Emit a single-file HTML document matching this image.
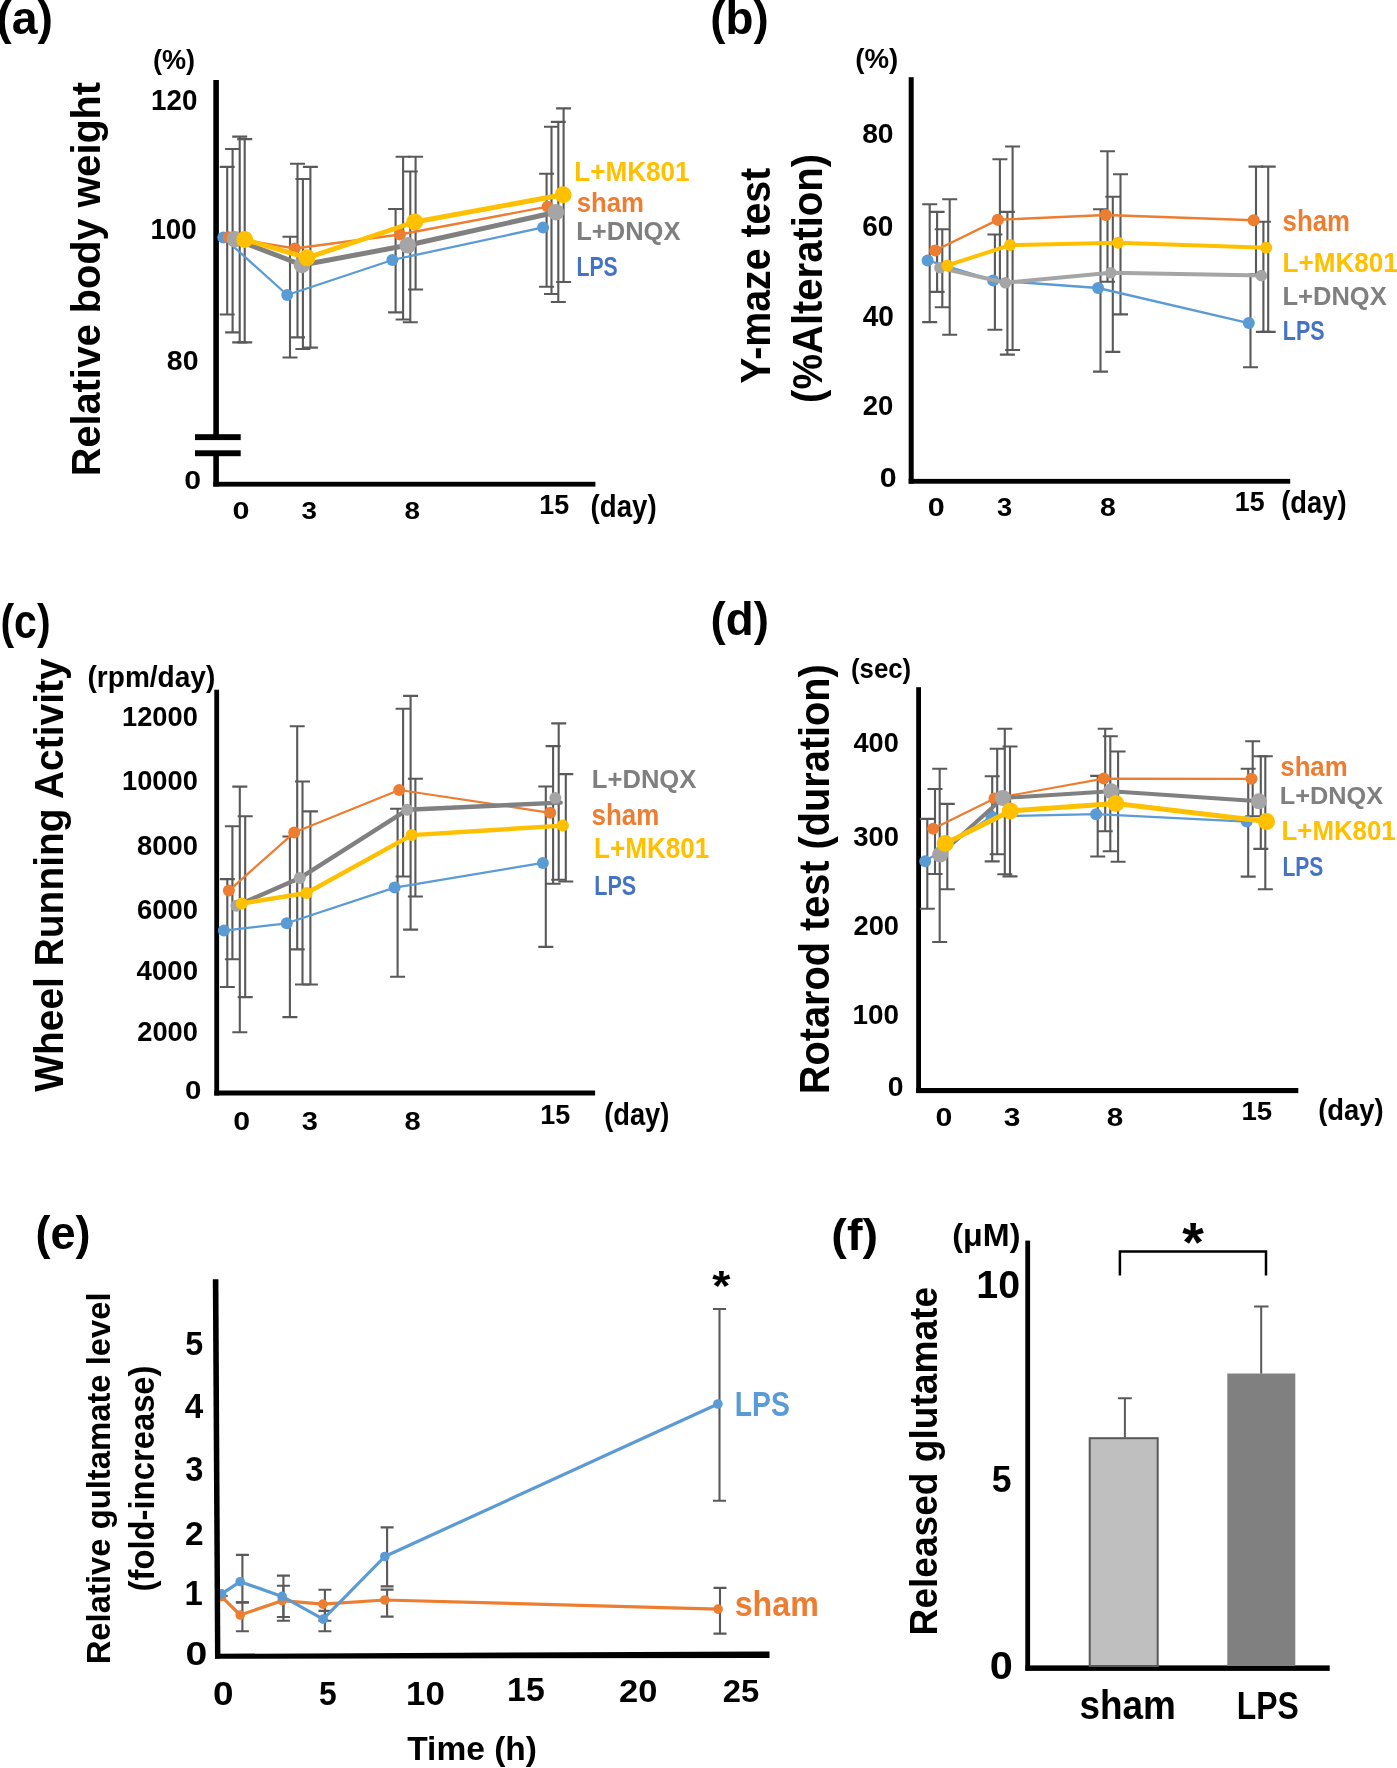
<!DOCTYPE html>
<html><head><meta charset="utf-8"><style>
html,body{margin:0;padding:0;background:#fff;width:1397px;height:1768px;overflow:hidden}
svg{display:block;font-family:"Liberation Sans",sans-serif;will-change:transform}
</style></head><body>
<svg width="1397" height="1768" viewBox="0 0 1397 1768">
<rect width="1397" height="1768" fill="#fff"/>
<text x="-3.82" y="33.96" font-size="46.84" font-weight="700" fill="#000" textLength="56.71" lengthAdjust="spacingAndGlyphs">(a)</text>
<text x="152.94" y="69.15" font-size="28.34" font-weight="700" fill="#000" textLength="42.22" lengthAdjust="spacingAndGlyphs">(%)</text>
<text x="151.10" y="109.51" font-size="28.73" font-weight="700" fill="#000" textLength="46.31" lengthAdjust="spacingAndGlyphs">120</text>
<text x="150.40" y="238.71" font-size="28.73" font-weight="700" fill="#000" textLength="46.31" lengthAdjust="spacingAndGlyphs">100</text>
<text x="166.85" y="370.02" font-size="27.75" font-weight="700" fill="#000" textLength="31.66" lengthAdjust="spacingAndGlyphs">80</text>
<text x="184.39" y="489.04" font-size="25.77" font-weight="700" fill="#000" textLength="16.86" lengthAdjust="spacingAndGlyphs">0</text>
<text x="232.58" y="518.65" font-size="24.51" font-weight="700" fill="#000" textLength="16.98" lengthAdjust="spacingAndGlyphs">0</text>
<text x="301.60" y="518.65" font-size="24.51" font-weight="700" fill="#000" textLength="15.51" lengthAdjust="spacingAndGlyphs">3</text>
<text x="404.56" y="518.65" font-size="24.51" font-weight="700" fill="#000" textLength="15.51" lengthAdjust="spacingAndGlyphs">8</text>
<text x="539.25" y="513.73" font-size="27.29" font-weight="700" fill="#000" textLength="29.88" lengthAdjust="spacingAndGlyphs">15</text>
<text x="590.62" y="517.39" font-size="31.02" font-weight="700" fill="#000" textLength="66.04" lengthAdjust="spacingAndGlyphs">(day)</text>
<text x="99.93" y="476.18" font-size="40.32" font-weight="700" fill="#000" textLength="394.23" lengthAdjust="spacingAndGlyphs" transform="rotate(-90 99.93 476.18)">Relative body weight</text>
<rect x="213.3" y="80" width="5.6" height="355" fill="#000"/>
<rect x="213.3" y="456" width="5.6" height="30.5" fill="#000"/>
<rect x="213.3" y="481.8" width="382.1" height="4.8" fill="#000"/>
<rect x="195" y="434.2" width="45.7" height="5.9" fill="#000"/>
<rect x="195" y="450.3" width="45.7" height="5.9" fill="#000"/>
<path d="M227.2,166.9V314.5M219.7,166.9H234.7M219.7,314.5H234.7" stroke="#595959" stroke-width="2.1" fill="none"/>
<path d="M232.6,149V332.4M225.1,149H240.1M225.1,332.4H240.1" stroke="#595959" stroke-width="2.1" fill="none"/>
<path d="M239.7,136.6V342.4M232.2,136.6H247.2M232.2,342.4H247.2" stroke="#595959" stroke-width="2.1" fill="none"/>
<path d="M244.7,139.1V342.4M237.2,139.1H252.2M237.2,342.4H252.2" stroke="#595959" stroke-width="2.1" fill="none"/>
<path d="M290,236.7V357.5M282.5,236.7H297.5M282.5,357.5H297.5" stroke="#595959" stroke-width="2.1" fill="none"/>
<path d="M297.5,163.8V337.4M290.0,163.8H305.0M290.0,337.4H305.0" stroke="#595959" stroke-width="2.1" fill="none"/>
<path d="M302.9,179V349M295.4,179H310.4M295.4,349H310.4" stroke="#595959" stroke-width="2.1" fill="none"/>
<path d="M310.4,166.9V347.6M302.9,166.9H317.9M302.9,347.6H317.9" stroke="#595959" stroke-width="2.1" fill="none"/>
<path d="M395.6,209V312.4M388.1,209H403.1M388.1,312.4H403.1" stroke="#595959" stroke-width="2.1" fill="none"/>
<path d="M403.1,156.7V319.5M395.6,156.7H410.6M395.6,319.5H410.6" stroke="#595959" stroke-width="2.1" fill="none"/>
<path d="M410.3,171.5V322.2M402.8,171.5H417.8M402.8,322.2H417.8" stroke="#595959" stroke-width="2.1" fill="none"/>
<path d="M415.6,156.7V289.5M408.1,156.7H423.1M408.1,289.5H423.1" stroke="#595959" stroke-width="2.1" fill="none"/>
<path d="M546.6,173.8V286.8M539.1,173.8H554.1M539.1,286.8H554.1" stroke="#595959" stroke-width="2.1" fill="none"/>
<path d="M551.5,126.7V294M544.0,126.7H559.0M544.0,294H559.0" stroke="#595959" stroke-width="2.1" fill="none"/>
<path d="M558.3,121.9V302M550.8,121.9H565.8M550.8,302H565.8" stroke="#595959" stroke-width="2.1" fill="none"/>
<path d="M563.6,108.4V282M556.1,108.4H571.1M556.1,282H571.1" stroke="#595959" stroke-width="2.1" fill="none"/>
<polyline points="223.3,237.4 287.2,295 392.4,260 543.1,227.4" fill="none" stroke="#5B9BD5" stroke-width="2.3" stroke-linejoin="round" stroke-linecap="round"/>
<circle cx="223.3" cy="237.4" r="6" fill="#5B9BD5"/>
<circle cx="287.2" cy="295" r="6" fill="#5B9BD5"/>
<circle cx="392.4" cy="260" r="6" fill="#5B9BD5"/>
<circle cx="543.1" cy="227.4" r="6" fill="#5B9BD5"/>
<polyline points="228.5,237.2 294.8,248.5 400,234.5 547.5,206.7" fill="none" stroke="#ED7D31" stroke-width="2.3" stroke-linejoin="round" stroke-linecap="round"/>
<circle cx="228.5" cy="237.2" r="5.9" fill="#ED7D31"/>
<circle cx="294.8" cy="248.5" r="5.9" fill="#ED7D31"/>
<circle cx="400" cy="234.5" r="5.9" fill="#ED7D31"/>
<circle cx="547.5" cy="206.7" r="5.9" fill="#ED7D31"/>
<polyline points="234.7,239.2 302,265 407.6,245.3 555.9,212.2" fill="none" stroke="#808080" stroke-width="5" stroke-linejoin="round" stroke-linecap="round"/>
<circle cx="234.7" cy="239.2" r="8.3" fill="#A5A5A5"/>
<circle cx="302" cy="265" r="8.3" fill="#A5A5A5"/>
<circle cx="407.6" cy="245.3" r="8.3" fill="#A5A5A5"/>
<circle cx="555.9" cy="212.2" r="8.3" fill="#A5A5A5"/>
<polyline points="244.7,239.5 307,257.8 414.7,222 563.1,194.7" fill="none" stroke="#FFC000" stroke-width="5" stroke-linejoin="round" stroke-linecap="round"/>
<circle cx="244.7" cy="239.5" r="8.5" fill="#FFC000"/>
<circle cx="307" cy="257.8" r="8.5" fill="#FFC000"/>
<circle cx="414.7" cy="222" r="8.5" fill="#FFC000"/>
<circle cx="563.1" cy="194.7" r="8.5" fill="#FFC000"/>
<text x="574.35" y="181.22" font-size="28.17" font-weight="700" fill="#FFC000" textLength="115.29" lengthAdjust="spacingAndGlyphs">L+MK801</text>
<text x="576.70" y="211.72" font-size="28.16" font-weight="700" fill="#ED7D31" textLength="67.31" lengthAdjust="spacingAndGlyphs">sham</text>
<text x="576.24" y="240.22" font-size="25.03" font-weight="700" fill="#7F7F7F" textLength="104.22" lengthAdjust="spacingAndGlyphs">L+DNQX</text>
<text x="576.52" y="275.72" font-size="27.61" font-weight="700" fill="#4472C4" textLength="41.22" lengthAdjust="spacingAndGlyphs">LPS</text>
<text x="710.32" y="33.96" font-size="46.84" font-weight="700" fill="#000" textLength="58.33" lengthAdjust="spacingAndGlyphs">(b)</text>
<text x="855.32" y="68.16" font-size="27.81" font-weight="700" fill="#000" textLength="42.97" lengthAdjust="spacingAndGlyphs">(%)</text>
<text x="862.15" y="142.73" font-size="27.32" font-weight="700" fill="#000" textLength="31.45" lengthAdjust="spacingAndGlyphs">80</text>
<text x="862.22" y="236.21" font-size="28.73" font-weight="700" fill="#000" textLength="31.06" lengthAdjust="spacingAndGlyphs">60</text>
<text x="862.78" y="326.21" font-size="28.59" font-weight="700" fill="#000" textLength="31.21" lengthAdjust="spacingAndGlyphs">40</text>
<text x="862.64" y="415.12" font-size="28.31" font-weight="700" fill="#000" textLength="30.63" lengthAdjust="spacingAndGlyphs">20</text>
<text x="879.89" y="486.73" font-size="26.90" font-weight="700" fill="#000" textLength="16.86" lengthAdjust="spacingAndGlyphs">0</text>
<text x="927.78" y="515.85" font-size="25.49" font-weight="700" fill="#000" textLength="16.98" lengthAdjust="spacingAndGlyphs">0</text>
<text x="997.12" y="515.85" font-size="25.49" font-weight="700" fill="#000" textLength="15.17" lengthAdjust="spacingAndGlyphs">3</text>
<text x="1100.05" y="515.85" font-size="25.49" font-weight="700" fill="#000" textLength="15.84" lengthAdjust="spacingAndGlyphs">8</text>
<text x="1234.76" y="510.92" font-size="28.29" font-weight="700" fill="#000" textLength="29.77" lengthAdjust="spacingAndGlyphs">15</text>
<text x="1281.23" y="512.75" font-size="31.66" font-weight="700" fill="#000" textLength="65.31" lengthAdjust="spacingAndGlyphs">(day)</text>
<text x="770.38" y="383.79" font-size="42.43" font-weight="700" fill="#000" textLength="216.08" lengthAdjust="spacingAndGlyphs" transform="rotate(-90 770.38 383.79)">Y-maze test</text>
<text x="821.84" y="402.90" font-size="42.67" font-weight="700" fill="#000" textLength="249.00" lengthAdjust="spacingAndGlyphs" transform="rotate(-90 821.84 402.90)">(%Alteration)</text>
<rect x="908.7" y="77.2" width="5.0" height="406.4" fill="#000"/>
<rect x="908.7" y="478.9" width="381.5" height="4.8" fill="#000"/>
<path d="M929.7,204.3V322.1M922.2,204.3H937.2M922.2,322.1H937.2" stroke="#595959" stroke-width="2.1" fill="none"/>
<path d="M937.1,211.9V291.9M929.6,211.9H944.6M929.6,291.9H944.6" stroke="#595959" stroke-width="2.1" fill="none"/>
<path d="M942.3,229.2V307.2M934.8,229.2H949.8M934.8,307.2H949.8" stroke="#595959" stroke-width="2.1" fill="none"/>
<path d="M949.7,199.3V334.7M942.2,199.3H957.2M942.2,334.7H957.2" stroke="#595959" stroke-width="2.1" fill="none"/>
<path d="M994.9,234.5V329.7M987.4,234.5H1002.4M987.4,329.7H1002.4" stroke="#595959" stroke-width="2.1" fill="none"/>
<path d="M999.9,159.3V280.7M992.4,159.3H1007.4M992.4,280.7H1007.4" stroke="#595959" stroke-width="2.1" fill="none"/>
<path d="M1007.4,211.9V354.6M999.9,211.9H1014.9M999.9,354.6H1014.9" stroke="#595959" stroke-width="2.1" fill="none"/>
<path d="M1012.6,146.5V350M1005.1,146.5H1020.1M1005.1,350H1020.1" stroke="#595959" stroke-width="2.1" fill="none"/>
<path d="M1100.5,209.2V371.6M1093.0,209.2H1108.0M1093.0,371.6H1108.0" stroke="#595959" stroke-width="2.1" fill="none"/>
<path d="M1107.5,151.3V281.7M1100.0,151.3H1115.0M1100.0,281.7H1115.0" stroke="#595959" stroke-width="2.1" fill="none"/>
<path d="M1112.8,196.8V351.9M1105.3,196.8H1120.3M1105.3,351.9H1120.3" stroke="#595959" stroke-width="2.1" fill="none"/>
<path d="M1120.5,174.2V314.4M1113.0,174.2H1128.0M1113.0,314.4H1128.0" stroke="#595959" stroke-width="2.1" fill="none"/>
<path d="M1250.5,276V367.2M1243.0,276H1258.0M1243.0,367.2H1258.0" stroke="#595959" stroke-width="2.1" fill="none"/>
<path d="M1256,166.6V274.4M1248.5,166.6H1263.5M1248.5,274.4H1263.5" stroke="#595959" stroke-width="2.1" fill="none"/>
<path d="M1263.4,221.7V331.9M1255.9,221.7H1270.9M1255.9,331.9H1270.9" stroke="#595959" stroke-width="2.1" fill="none"/>
<path d="M1268.2,166.6V331.9M1260.7,166.6H1275.7M1260.7,331.9H1275.7" stroke="#595959" stroke-width="2.1" fill="none"/>
<polyline points="927.6,260.4 993.1,280.4 1098.1,288 1248.8,323.1" fill="none" stroke="#5B9BD5" stroke-width="2.4" stroke-linejoin="round" stroke-linecap="round"/>
<circle cx="927.6" cy="260.4" r="6" fill="#5B9BD5"/>
<circle cx="993.1" cy="280.4" r="6" fill="#5B9BD5"/>
<circle cx="1098.1" cy="288" r="6" fill="#5B9BD5"/>
<circle cx="1248.8" cy="323.1" r="6" fill="#5B9BD5"/>
<polyline points="935.2,250.5 997.8,219.8 1105.7,215 1253.7,220.3" fill="none" stroke="#ED7D31" stroke-width="2.4" stroke-linejoin="round" stroke-linecap="round"/>
<circle cx="935.2" cy="250.5" r="6.1" fill="#ED7D31"/>
<circle cx="997.8" cy="219.8" r="6.1" fill="#ED7D31"/>
<circle cx="1105.7" cy="215" r="6.1" fill="#ED7D31"/>
<circle cx="1253.7" cy="220.3" r="6.1" fill="#ED7D31"/>
<polyline points="939.9,267.8 1005.4,282.8 1110.8,272.8 1261.4,275.6" fill="none" stroke="#A5A5A5" stroke-width="4" stroke-linejoin="round" stroke-linecap="round"/>
<circle cx="939.9" cy="267.8" r="5.8" fill="#A5A5A5"/>
<circle cx="1005.4" cy="282.8" r="5.8" fill="#A5A5A5"/>
<circle cx="1110.8" cy="272.8" r="5.8" fill="#A5A5A5"/>
<circle cx="1261.4" cy="275.6" r="5.8" fill="#A5A5A5"/>
<polyline points="947.5,265.4 1010.1,245.1 1118.1,242.8 1266.2,247.7" fill="none" stroke="#FFC000" stroke-width="4" stroke-linejoin="round" stroke-linecap="round"/>
<circle cx="947.5" cy="265.4" r="6" fill="#FFC000"/>
<circle cx="1010.1" cy="245.1" r="6" fill="#FFC000"/>
<circle cx="1118.1" cy="242.8" r="6" fill="#FFC000"/>
<circle cx="1266.2" cy="247.7" r="6" fill="#FFC000"/>
<text x="1282.60" y="230.91" font-size="29.25" font-weight="700" fill="#ED7D31" textLength="67.31" lengthAdjust="spacingAndGlyphs">sham</text>
<text x="1282.50" y="271.52" font-size="28.31" font-weight="700" fill="#FFC000" textLength="115.24" lengthAdjust="spacingAndGlyphs">L+MK801</text>
<text x="1282.54" y="305.32" font-size="25.03" font-weight="700" fill="#7F7F7F" textLength="104.12" lengthAdjust="spacingAndGlyphs">L+DNQX</text>
<text x="1282.80" y="340.43" font-size="27.32" font-weight="700" fill="#4472C4" textLength="41.74" lengthAdjust="spacingAndGlyphs">LPS</text>
<text x="0.45" y="637.71" font-size="47.59" font-weight="700" fill="#000" textLength="50.09" lengthAdjust="spacingAndGlyphs">(c)</text>
<text x="87.50" y="686.89" font-size="29.09" font-weight="700" fill="#000" textLength="127.80" lengthAdjust="spacingAndGlyphs">(rpm/day)</text>
<text x="122.03" y="725.62" font-size="27.89" font-weight="700" fill="#000" textLength="75.78" lengthAdjust="spacingAndGlyphs">12000</text>
<text x="122.03" y="789.83" font-size="27.18" font-weight="700" fill="#000" textLength="75.78" lengthAdjust="spacingAndGlyphs">10000</text>
<text x="137.08" y="854.92" font-size="27.61" font-weight="700" fill="#000" textLength="60.91" lengthAdjust="spacingAndGlyphs">8000</text>
<text x="136.94" y="918.92" font-size="27.75" font-weight="700" fill="#000" textLength="61.05" lengthAdjust="spacingAndGlyphs">6000</text>
<text x="136.59" y="980.42" font-size="27.75" font-weight="700" fill="#000" textLength="61.41" lengthAdjust="spacingAndGlyphs">4000</text>
<text x="137.24" y="1041.32" font-size="27.61" font-weight="700" fill="#000" textLength="60.74" lengthAdjust="spacingAndGlyphs">2000</text>
<text x="185.02" y="1099.24" font-size="26.48" font-weight="700" fill="#000" textLength="16.39" lengthAdjust="spacingAndGlyphs">0</text>
<text x="233.19" y="1129.54" font-size="25.63" font-weight="700" fill="#000" textLength="16.86" lengthAdjust="spacingAndGlyphs">0</text>
<text x="301.67" y="1129.54" font-size="25.63" font-weight="700" fill="#000" textLength="16.18" lengthAdjust="spacingAndGlyphs">3</text>
<text x="404.63" y="1129.54" font-size="25.63" font-weight="700" fill="#000" textLength="16.18" lengthAdjust="spacingAndGlyphs">8</text>
<text x="540.15" y="1124.43" font-size="27.00" font-weight="700" fill="#000" textLength="29.99" lengthAdjust="spacingAndGlyphs">15</text>
<text x="604.14" y="1124.94" font-size="31.23" font-weight="700" fill="#000" textLength="65.21" lengthAdjust="spacingAndGlyphs">(day)</text>
<text x="63.44" y="1091.80" font-size="39.79" font-weight="700" fill="#000" textLength="433.40" lengthAdjust="spacingAndGlyphs" transform="rotate(-90 63.44 1091.80)">Wheel Running Activity</text>
<rect x="214.3" y="689.7" width="4.8" height="405.8" fill="#000"/>
<rect x="214.3" y="1090.5" width="380.8" height="5.0" fill="#000"/>
<path d="M227.3,879.1V987M219.8,879.1H234.8M219.8,987H234.8" stroke="#595959" stroke-width="2.1" fill="none"/>
<path d="M232.4,826.2V959.3M224.9,826.2H239.9M224.9,959.3H239.9" stroke="#595959" stroke-width="2.1" fill="none"/>
<path d="M239.8,786.6V1032.2M232.3,786.6H247.3M232.3,1032.2H247.3" stroke="#595959" stroke-width="2.1" fill="none"/>
<path d="M245.2,816.2V997.1M237.7,816.2H252.7M237.7,997.1H252.7" stroke="#595959" stroke-width="2.1" fill="none"/>
<path d="M289.9,836.5V1017.1M282.4,836.5H297.4M282.4,1017.1H297.4" stroke="#595959" stroke-width="2.1" fill="none"/>
<path d="M297.2,726.2V949.4M289.7,726.2H304.7M289.7,949.4H304.7" stroke="#595959" stroke-width="2.1" fill="none"/>
<path d="M302.5,781.5V984.5M295.0,781.5H310.0M295.0,984.5H310.0" stroke="#595959" stroke-width="2.1" fill="none"/>
<path d="M310.4,811.4V984.5M302.9,811.4H317.9M302.9,984.5H317.9" stroke="#595959" stroke-width="2.1" fill="none"/>
<path d="M397.6,808.8V976.7M390.1,808.8H405.1M390.1,976.7H405.1" stroke="#595959" stroke-width="2.1" fill="none"/>
<path d="M403.1,708.8V876.5M395.6,708.8H410.6M395.6,876.5H410.6" stroke="#595959" stroke-width="2.1" fill="none"/>
<path d="M410.6,695.9V929.6M403.1,695.9H418.1M403.1,929.6H418.1" stroke="#595959" stroke-width="2.1" fill="none"/>
<path d="M415.4,778.7V896.5M407.9,778.7H422.9M407.9,896.5H422.9" stroke="#595959" stroke-width="2.1" fill="none"/>
<path d="M545.8,786.5V946.9M538.3,786.5H553.3M538.3,946.9H553.3" stroke="#595959" stroke-width="2.1" fill="none"/>
<path d="M553.1,746.1V883.7M545.6,746.1H560.6M545.6,883.7H560.6" stroke="#595959" stroke-width="2.1" fill="none"/>
<path d="M558.7,723.4V879.8M551.2,723.4H566.2M551.2,879.8H566.2" stroke="#595959" stroke-width="2.1" fill="none"/>
<path d="M565.8,774.1V881.5M558.3,774.1H573.3M558.3,881.5H573.3" stroke="#595959" stroke-width="2.1" fill="none"/>
<polyline points="223.9,930.6 286.7,923.3 394.6,887.6 542.9,862.9" fill="none" stroke="#5B9BD5" stroke-width="2.2" stroke-linejoin="round" stroke-linecap="round"/>
<circle cx="223.9" cy="930.6" r="6" fill="#5B9BD5"/>
<circle cx="286.7" cy="923.3" r="6" fill="#5B9BD5"/>
<circle cx="394.6" cy="887.6" r="6" fill="#5B9BD5"/>
<circle cx="542.9" cy="862.9" r="6" fill="#5B9BD5"/>
<polyline points="228.9,890.6 294.2,832.6 399.2,790 550.2,812.8" fill="none" stroke="#ED7D31" stroke-width="2.2" stroke-linejoin="round" stroke-linecap="round"/>
<circle cx="228.9" cy="890.6" r="6" fill="#ED7D31"/>
<circle cx="294.2" cy="832.6" r="6" fill="#ED7D31"/>
<circle cx="399.2" cy="790" r="6" fill="#ED7D31"/>
<circle cx="550.2" cy="812.8" r="6" fill="#ED7D31"/>
<polyline points="236.4,905.8 299.8,878.1 407.1,809.8 560.7,802.6" fill="none" stroke="#808080" stroke-width="4.4" stroke-linejoin="round" stroke-linecap="round"/>
<circle cx="236.4" cy="905.8" r="6" fill="#A5A5A5"/>
<circle cx="299.8" cy="878.1" r="6" fill="#A5A5A5"/>
<circle cx="407.1" cy="809.8" r="6" fill="#A5A5A5"/>
<circle cx="555.3" cy="798.1" r="6" fill="#A5A5A5"/>
<polyline points="241.7,903.5 306.7,893 411.6,835.1 562.9,825.6" fill="none" stroke="#FFC000" stroke-width="4.4" stroke-linejoin="round" stroke-linecap="round"/>
<circle cx="241.7" cy="903.5" r="6" fill="#FFC000"/>
<circle cx="306.7" cy="893" r="6" fill="#FFC000"/>
<circle cx="411.6" cy="835.1" r="6" fill="#FFC000"/>
<circle cx="562.9" cy="825.6" r="6" fill="#FFC000"/>
<text x="591.84" y="787.98" font-size="25.25" font-weight="700" fill="#7F7F7F" textLength="104.52" lengthAdjust="spacingAndGlyphs">L+DNQX</text>
<text x="591.59" y="825.41" font-size="28.84" font-weight="700" fill="#ED7D31" textLength="67.72" lengthAdjust="spacingAndGlyphs">sham</text>
<text x="594.00" y="858.31" font-size="28.59" font-weight="700" fill="#FFC000" textLength="115.34" lengthAdjust="spacingAndGlyphs">L+MK801</text>
<text x="594.30" y="895.02" font-size="28.17" font-weight="700" fill="#4472C4" textLength="41.85" lengthAdjust="spacingAndGlyphs">LPS</text>
<text x="710.52" y="635.34" font-size="46.95" font-weight="700" fill="#000" textLength="58.33" lengthAdjust="spacingAndGlyphs">(d)</text>
<text x="851.01" y="677.90" font-size="28.56" font-weight="700" fill="#000" textLength="60.17" lengthAdjust="spacingAndGlyphs">(sec)</text>
<text x="853.49" y="751.92" font-size="27.75" font-weight="700" fill="#000" textLength="45.29" lengthAdjust="spacingAndGlyphs">400</text>
<text x="853.31" y="845.72" font-size="28.17" font-weight="700" fill="#000" textLength="45.78" lengthAdjust="spacingAndGlyphs">300</text>
<text x="853.44" y="934.82" font-size="27.75" font-weight="700" fill="#000" textLength="45.65" lengthAdjust="spacingAndGlyphs">200</text>
<text x="852.59" y="1023.92" font-size="27.89" font-weight="700" fill="#000" textLength="46.53" lengthAdjust="spacingAndGlyphs">100</text>
<text x="887.66" y="1096.23" font-size="27.18" font-weight="700" fill="#000" textLength="15.81" lengthAdjust="spacingAndGlyphs">0</text>
<text x="935.59" y="1125.64" font-size="25.77" font-weight="700" fill="#000" textLength="16.86" lengthAdjust="spacingAndGlyphs">0</text>
<text x="1003.75" y="1125.64" font-size="25.77" font-weight="700" fill="#000" textLength="16.63" lengthAdjust="spacingAndGlyphs">3</text>
<text x="1106.71" y="1125.64" font-size="25.77" font-weight="700" fill="#000" textLength="16.52" lengthAdjust="spacingAndGlyphs">8</text>
<text x="1241.50" y="1120.44" font-size="26.00" font-weight="700" fill="#000" textLength="30.75" lengthAdjust="spacingAndGlyphs">15</text>
<text x="1318.23" y="1119.86" font-size="28.77" font-weight="700" fill="#000" textLength="65.52" lengthAdjust="spacingAndGlyphs">(day)</text>
<text x="829.34" y="1094.18" font-size="41.71" font-weight="700" fill="#000" textLength="429.98" lengthAdjust="spacingAndGlyphs" transform="rotate(-90 829.34 1094.18)">Rotarod test (duration)</text>
<rect x="916.2" y="687.2" width="4.8" height="405.5" fill="#000"/>
<rect x="916.2" y="1088.0" width="382.1" height="5.1" fill="#000"/>
<path d="M927.3,818.9V908.7M919.8,818.9H934.8M919.8,908.7H934.8" stroke="#595959" stroke-width="2.1" fill="none"/>
<path d="M935,789V874M927.5,789H942.5M927.5,874H942.5" stroke="#595959" stroke-width="2.1" fill="none"/>
<path d="M939.7,768.8V942M932.2,768.8H947.2M932.2,942H947.2" stroke="#595959" stroke-width="2.1" fill="none"/>
<path d="M947.3,803.9V889.3M939.8,803.9H954.8M939.8,889.3H954.8" stroke="#595959" stroke-width="2.1" fill="none"/>
<path d="M992.2,776.2V861.4M984.7,776.2H999.7M984.7,861.4H999.7" stroke="#595959" stroke-width="2.1" fill="none"/>
<path d="M997.2,748.8V854.3M989.7,748.8H1004.7M989.7,854.3H1004.7" stroke="#595959" stroke-width="2.1" fill="none"/>
<path d="M1004.8,728.7V874.3M997.3,728.7H1012.3M997.3,874.3H1012.3" stroke="#595959" stroke-width="2.1" fill="none"/>
<path d="M1010,746.5V876.4M1002.5,746.5H1017.5M1002.5,876.4H1017.5" stroke="#595959" stroke-width="2.1" fill="none"/>
<path d="M1097.7,775.9V856.5M1090.2,775.9H1105.2M1090.2,856.5H1105.2" stroke="#595959" stroke-width="2.1" fill="none"/>
<path d="M1105.2,728.7V831.3M1097.7,728.7H1112.7M1097.7,831.3H1112.7" stroke="#595959" stroke-width="2.1" fill="none"/>
<path d="M1110.3,736.2V851.2M1102.8,736.2H1117.8M1102.8,851.2H1117.8" stroke="#595959" stroke-width="2.1" fill="none"/>
<path d="M1118.1,751.5V861.7M1110.6,751.5H1125.6M1110.6,861.7H1125.6" stroke="#595959" stroke-width="2.1" fill="none"/>
<path d="M1248.2,768.8V876.6M1240.7,768.8H1255.7M1240.7,876.6H1255.7" stroke="#595959" stroke-width="2.1" fill="none"/>
<path d="M1252.7,741.3V816.3M1245.2,741.3H1260.2M1245.2,816.3H1260.2" stroke="#595959" stroke-width="2.1" fill="none"/>
<path d="M1260.8,756.2V848.9M1253.3,756.2H1268.3M1253.3,848.9H1268.3" stroke="#595959" stroke-width="2.1" fill="none"/>
<path d="M1265.3,756.2V889.2M1257.8,756.2H1272.8M1257.8,889.2H1272.8" stroke="#595959" stroke-width="2.1" fill="none"/>
<polyline points="925.2,861.3 991.4,816.4 1096.1,814.2 1246.7,821.6" fill="none" stroke="#5B9BD5" stroke-width="2.2" stroke-linejoin="round" stroke-linecap="round"/>
<circle cx="925.2" cy="861.3" r="6" fill="#5B9BD5"/>
<circle cx="991.4" cy="816.4" r="6" fill="#5B9BD5"/>
<circle cx="1096.1" cy="814.2" r="6" fill="#5B9BD5"/>
<circle cx="1246.7" cy="821.6" r="6" fill="#5B9BD5"/>
<polyline points="933.1,828.7 994.5,798.4 1103.7,778.6 1251.5,778.8" fill="none" stroke="#ED7D31" stroke-width="2.2" stroke-linejoin="round" stroke-linecap="round"/>
<circle cx="933.1" cy="828.7" r="6" fill="#ED7D31"/>
<circle cx="994.5" cy="798.4" r="6" fill="#ED7D31"/>
<circle cx="1103.7" cy="778.6" r="6" fill="#ED7D31"/>
<circle cx="1251.5" cy="778.8" r="6" fill="#ED7D31"/>
<polyline points="940.2,854.6 1002.9,798 1111.1,791.2 1259,801.3" fill="none" stroke="#808080" stroke-width="4" stroke-linejoin="round" stroke-linecap="round"/>
<circle cx="940.2" cy="854.6" r="8" fill="#A5A5A5"/>
<circle cx="1002.9" cy="798" r="8" fill="#A5A5A5"/>
<circle cx="1111.1" cy="791.2" r="8" fill="#A5A5A5"/>
<circle cx="1259" cy="801.3" r="8" fill="#A5A5A5"/>
<polyline points="945.2,843.6 1010.3,811 1115.8,803.5 1266.5,821.4" fill="none" stroke="#FFC000" stroke-width="5" stroke-linejoin="round" stroke-linecap="round"/>
<circle cx="945.2" cy="843.6" r="8.5" fill="#FFC000"/>
<circle cx="1010.3" cy="811" r="8.5" fill="#FFC000"/>
<circle cx="1115.8" cy="803.5" r="8.5" fill="#FFC000"/>
<circle cx="1266.5" cy="821.4" r="8.5" fill="#FFC000"/>
<text x="1280.30" y="775.92" font-size="28.03" font-weight="700" fill="#ED7D31" textLength="67.31" lengthAdjust="spacingAndGlyphs">sham</text>
<text x="1279.75" y="804.28" font-size="24.69" font-weight="700" fill="#7F7F7F" textLength="103.40" lengthAdjust="spacingAndGlyphs">L+DNQX</text>
<text x="1281.52" y="840.23" font-size="26.90" font-weight="700" fill="#FFC000" textLength="114.22" lengthAdjust="spacingAndGlyphs">L+MK801</text>
<text x="1282.43" y="875.72" font-size="27.75" font-weight="700" fill="#4472C4" textLength="40.90" lengthAdjust="spacingAndGlyphs">LPS</text>
<text x="35.45" y="1249.33" font-size="45.56" font-weight="700" fill="#000" textLength="55.08" lengthAdjust="spacingAndGlyphs">(e)</text>
<text x="185.13" y="1354.76" font-size="33.71" font-weight="700" fill="#000" textLength="17.91" lengthAdjust="spacingAndGlyphs">5</text>
<text x="184.80" y="1418.20" font-size="34.49" font-weight="700" fill="#000" textLength="18.50" lengthAdjust="spacingAndGlyphs">4</text>
<text x="185.29" y="1481.45" font-size="34.65" font-weight="700" fill="#000" textLength="18.09" lengthAdjust="spacingAndGlyphs">3</text>
<text x="184.93" y="1544.60" font-size="33.86" font-weight="700" fill="#000" textLength="18.65" lengthAdjust="spacingAndGlyphs">2</text>
<text x="184.46" y="1604.90" font-size="34.49" font-weight="700" fill="#000" textLength="18.30" lengthAdjust="spacingAndGlyphs">1</text>
<text x="185.43" y="1664.77" font-size="33.38" font-weight="700" fill="#000" textLength="21.78" lengthAdjust="spacingAndGlyphs">0</text>
<text x="213.03" y="1704.66" font-size="33.52" font-weight="700" fill="#000" textLength="20.49" lengthAdjust="spacingAndGlyphs">0</text>
<text x="319.05" y="1704.66" font-size="34.00" font-weight="700" fill="#000" textLength="17.69" lengthAdjust="spacingAndGlyphs">5</text>
<text x="406.14" y="1704.66" font-size="33.52" font-weight="700" fill="#000" textLength="38.74" lengthAdjust="spacingAndGlyphs">10</text>
<text x="507.10" y="1701.17" font-size="33.14" font-weight="700" fill="#000" textLength="37.62" lengthAdjust="spacingAndGlyphs">15</text>
<text x="618.99" y="1702.08" font-size="32.25" font-weight="700" fill="#000" textLength="38.37" lengthAdjust="spacingAndGlyphs">20</text>
<text x="722.85" y="1702.08" font-size="32.25" font-weight="700" fill="#000" textLength="36.44" lengthAdjust="spacingAndGlyphs">25</text>
<text x="407.26" y="1759.89" font-size="32.41" font-weight="700" fill="#000" textLength="129.77" lengthAdjust="spacingAndGlyphs">Time (h)</text>
<text x="110.20" y="1664.33" font-size="33.80" font-weight="700" fill="#000" textLength="372.05" lengthAdjust="spacingAndGlyphs" transform="rotate(-90 110.20 1664.33)">Relative gultamate level</text>
<text x="153.57" y="1591.44" font-size="35.40" font-weight="700" fill="#000" textLength="225.99" lengthAdjust="spacingAndGlyphs" transform="rotate(-90 153.57 1591.44)">(fold-increase)</text>
<polygon points="215,1653.8 769.5,1651.4 769.5,1657.9 215,1658.8" fill="#000"/>
<path d="M242.4,1554.9V1602.4M235.9,1554.9H248.9M235.9,1602.4H248.9" stroke="#595959" stroke-width="2.1" fill="none"/>
<path d="M242.4,1602.4V1631.3M235.9,1602.4H248.9M235.9,1631.3H248.9" stroke="#595959" stroke-width="2.1" fill="none"/>
<path d="M283.4,1575.6V1617M276.9,1575.6H289.9M276.9,1617H289.9" stroke="#595959" stroke-width="2.1" fill="none"/>
<path d="M283.4,1585.8V1620.8M276.9,1585.8H289.9M276.9,1620.8H289.9" stroke="#595959" stroke-width="2.1" fill="none"/>
<path d="M324.9,1589.8V1620.8M318.4,1589.8H331.4M318.4,1620.8H331.4" stroke="#595959" stroke-width="2.1" fill="none"/>
<path d="M324.9,1610.9V1631.3M318.4,1610.9H331.4M318.4,1631.3H331.4" stroke="#595959" stroke-width="2.1" fill="none"/>
<path d="M387.1,1527.4V1586.4M380.6,1527.4H393.6M380.6,1586.4H393.6" stroke="#595959" stroke-width="2.1" fill="none"/>
<path d="M387.1,1589.6V1616.6M380.6,1589.6H393.6M380.6,1616.6H393.6" stroke="#595959" stroke-width="2.1" fill="none"/>
<path d="M719.5,1309V1500.7M713.0,1309H726.0M713.0,1500.7H726.0" stroke="#595959" stroke-width="2.1" fill="none"/>
<path d="M720,1587.9V1633.6M713.5,1587.9H726.5M713.5,1633.6H726.5" stroke="#595959" stroke-width="2.1" fill="none"/>
<line x1="219" y1="1596" x2="227.7" y2="1596" stroke="#595959" stroke-width="2"/>
<polyline points="221.6,1596.6 240.2,1615 282.1,1600.7 322.9,1604.1 384.8,1600 718.1,1609.1" fill="none" stroke="#ED7D31" stroke-width="3.2" stroke-linejoin="round" stroke-linecap="round"/>
<circle cx="221.6" cy="1596.6" r="4.8" fill="#ED7D31"/>
<circle cx="240.2" cy="1615" r="4.8" fill="#ED7D31"/>
<circle cx="282.1" cy="1600.7" r="4.8" fill="#ED7D31"/>
<circle cx="322.9" cy="1604.1" r="4.8" fill="#ED7D31"/>
<circle cx="384.8" cy="1600" r="4.8" fill="#ED7D31"/>
<circle cx="718.1" cy="1609.1" r="4.8" fill="#ED7D31"/>
<polyline points="221.6,1593.9 240.2,1581.7 282.1,1596.4 323.2,1619.1 384.8,1556.5 717.9,1404" fill="none" stroke="#5B9BD5" stroke-width="3.2" stroke-linejoin="round" stroke-linecap="round"/>
<circle cx="221.6" cy="1593.9" r="4.8" fill="#5B9BD5"/>
<circle cx="240.2" cy="1581.7" r="4.8" fill="#5B9BD5"/>
<circle cx="282.1" cy="1596.4" r="4.8" fill="#5B9BD5"/>
<circle cx="323.2" cy="1619.1" r="4.8" fill="#5B9BD5"/>
<circle cx="384.8" cy="1556.5" r="4.8" fill="#5B9BD5"/>
<circle cx="717.9" cy="1404" r="4.8" fill="#5B9BD5"/>
<polygon points="212.8,1279.2 218.4,1279.2 220.4,1658.5 215.0,1658.5" fill="#000"/>
<text x="712.27" y="1300.06" font-size="42.70" font-weight="700" fill="#000" textLength="18.13" lengthAdjust="spacingAndGlyphs">*</text>
<text x="734.76" y="1415.95" font-size="35.07" font-weight="700" fill="#5B9BD5" textLength="55.03" lengthAdjust="spacingAndGlyphs">LPS</text>
<text x="734.67" y="1616.14" font-size="35.65" font-weight="700" fill="#ED7D31" textLength="84.14" lengthAdjust="spacingAndGlyphs">sham</text>
<text x="831.36" y="1249.54" font-size="45.03" font-weight="700" fill="#000" textLength="46.74" lengthAdjust="spacingAndGlyphs">(f)</text>
<text x="952.39" y="1246.43" font-size="30.80" font-weight="700" fill="#000" textLength="67.99" lengthAdjust="spacingAndGlyphs">(μM)</text>
<text x="976.35" y="1298.11" font-size="39.44" font-weight="700" fill="#000" textLength="43.72" lengthAdjust="spacingAndGlyphs">10</text>
<text x="991.63" y="1491.93" font-size="36.71" font-weight="700" fill="#000" textLength="19.80" lengthAdjust="spacingAndGlyphs">5</text>
<text x="989.84" y="1678.52" font-size="37.89" font-weight="700" fill="#000" textLength="23.07" lengthAdjust="spacingAndGlyphs">0</text>
<text x="937.18" y="1635.41" font-size="38.18" font-weight="700" fill="#000" textLength="348.51" lengthAdjust="spacingAndGlyphs" transform="rotate(-90 937.18 1635.41)">Released glutamate</text>
<rect x="1025.3" y="1240.6" width="4.8" height="429.70000000000005" fill="#000"/>
<rect x="1025.3" y="1665.4" width="304.4" height="5.5" fill="#000"/>
<rect x="1089.7" y="1438.2" width="68.0" height="227.79999999999995" fill="#BFBFBF" stroke="#595959" stroke-width="2"/>
<rect x="1227.3" y="1373.5" width="68.0" height="292.5" fill="#808080"/>
<path d="M1124.9,1437.2V1398.2M1118,1398.2H1131.8M1261.2,1373.5V1306.6M1254.1,1306.6H1268.5" stroke="#595959" stroke-width="2" fill="none"/>
<path d="M1119.9,1275.4V1251.4H1266V1275.4" stroke="#000" stroke-width="2.5" fill="none"/>
<text x="1182.32" y="1260.72" font-size="55.68" font-weight="700" fill="#000" textLength="21.61" lengthAdjust="spacingAndGlyphs">*</text>
<text x="1079.41" y="1718.59" font-size="41.22" font-weight="700" fill="#000" textLength="96.39" lengthAdjust="spacingAndGlyphs">sham</text>
<text x="1236.73" y="1718.61" font-size="38.73" font-weight="700" fill="#000" textLength="61.98" lengthAdjust="spacingAndGlyphs">LPS</text>
</svg></body></html>
